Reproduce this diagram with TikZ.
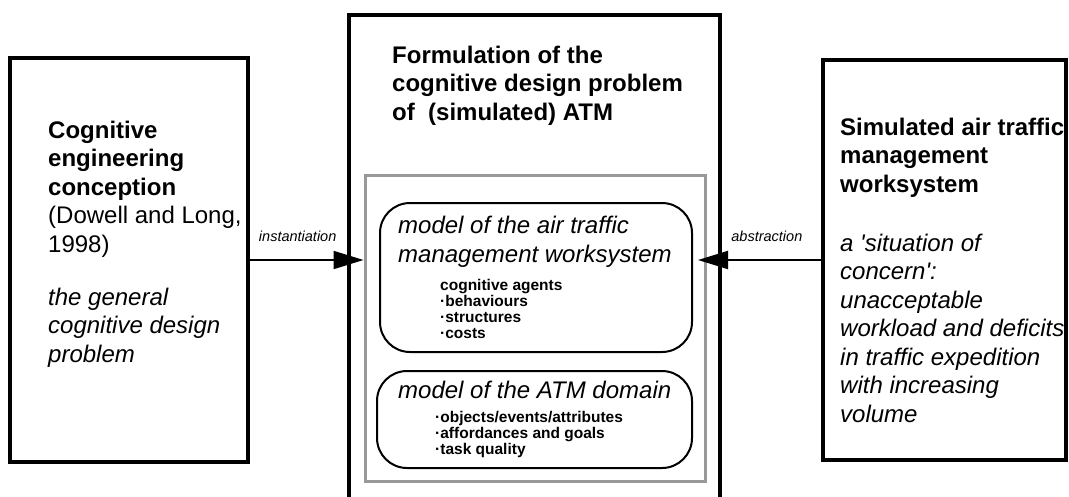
\documentclass[tikz,border=0pt]{standalone}
\usepackage{fontspec}
\setmainfont{Liberation Sans}
\usetikzlibrary{arrows.meta,positioning}
\definecolor{framegray}{gray}{0.6}

\tikzset{
  outerbox/.style={draw, line width=4pt, inner sep=0pt},
  framebox/.style={draw=framegray, line width=3pt, inner sep=0pt},
  modelbox/.style={draw, line width=2pt, rounded corners=30pt, inner sep=0pt},
  % multi-line texts are placed by the baseline of their last line
  bodytext/.style={anchor=base west, inner sep=0pt, align=left, font=\fontsize{24}{28.5}\selectfont},
  listtext/.style={anchor=base west, inner sep=0pt, align=left, font=\fontsize{15.5}{16}\selectfont\bfseries},
  arrowlabel/.style={inner sep=0pt, font=\fontsize{14.5}{16}\selectfont\itshape},
  flow/.style={line width=2pt, -{Triangle[length=30pt,width=18pt]}},
}

\begin{document}
\begin{tikzpicture}[x=1pt,y=-1pt]
  \useasboundingbox (0,0) rectangle (1069,496);

  % the three big boxes
  \node[outerbox, minimum width=238pt, minimum height=404pt] (cog) at (129,260) {};
  \node[outerbox, minimum width=243pt, minimum height=400pt] (sim) at (944.5,260) {};
  \draw[line width=4pt] (349,500) |- (720,15) -- (720,500);

  % grey frame and the two models
  \node[framebox, minimum width=340pt, minimum height=306pt] (frame) at (535,328) {};
  \node[modelbox, minimum width=312pt, minimum height=149pt] (wsmodel) at (536,277.5) {};
  \node[modelbox, minimum width=315pt, minimum height=97pt] (dommodel) at (534.5,419.5) {};

  % left box
  \node[bodytext] (cogtitle) at (48,252) {\textbf{Cognitive}\\\textbf{engineering}\\\textbf{conception}\\(Dowell and Long,\\1998)};
  \node[bodytext, font=\fontsize{24}{28.5}\selectfont\itshape] (coggoal) at (48,362) {the general\\cognitive design\\problem};

  % centre
  \node[bodytext, font=\fontsize{24}{28.5}\selectfont\bfseries] (formtitle) at (392,120) {Formulation of the\\cognitive design problem\\of \ (simulated) ATM};
  \node[bodytext, font=\fontsize{24}{29}\selectfont\itshape] (wstitle) at (398,262) {model of the air traffic\\management worksystem};
  \node[listtext] (wslist) at (440,338) {cognitive agents\\·behaviours\\·structures\\·costs};
  \node[bodytext, font=\fontsize{24}{28.5}\selectfont\itshape] (domtitle) at (398,398) {model of the ATM domain};
  \node[listtext] (domlist) at (435,454) {·objects/events/attributes\\·affordances and goals\\·task quality};

  % right box
  \node[bodytext, font=\fontsize{24}{28.5}\selectfont\bfseries] (simtitle) at (840,192) {Simulated air traffic\\management\\worksystem};
  \node[bodytext, font=\fontsize{24}{28.5}\selectfont\itshape] (simconcern) at (840,422) {a \textquotesingle situation of\\concern\textquotesingle :\\unacceptable\\workload and deficits\\in traffic expedition\\with increasing\\volume};

  % arrows
  \draw[flow] (cog.east) -- node[arrowlabel, above=17pt, pos=0.42] (inst) {instantiation} (frame.west |- cog.east);
  \draw[flow] (sim.west) -- node[arrowlabel, above=17pt, pos=0.44] (abst) {abstraction} ([xshift=5pt]wsmodel.east |- sim.west);
\end{tikzpicture}
\end{document}
